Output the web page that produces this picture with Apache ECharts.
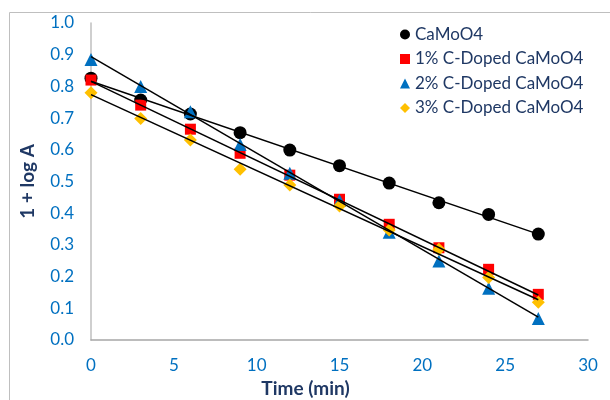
<!DOCTYPE html>
<html>
<head>
<meta charset="utf-8">
<script src="https://cdn.jsdelivr.net/npm/echarts@6/dist/echarts.min.js"></script>
<style>html,body{margin:0;padding:0;background:#fff;}#c{width:610px;height:400px;}</style>
</head>
<body>
<div id="c"></div>
<script>
const times = [0, 3, 6, 9, 12, 15, 18, 21, 24, 27];
const caMoO4 = [0.826, 0.757, 0.713, 0.654, 0.599, 0.550, 0.495, 0.433, 0.396, 0.334];
const doped1 = [0.820, 0.741, 0.665, 0.589, 0.520, 0.444, 0.365, 0.291, 0.223, 0.144];
const doped2 = [0.885, 0.800, 0.720, 0.617, 0.526, 0.440, 0.340, 0.249, 0.163, 0.068];
const doped3 = [0.780, 0.699, 0.631, 0.539, 0.489, 0.423, 0.347, 0.286, 0.197, 0.119];
const trendTimes = [0, 27];
const trendCa = [0.816, 0.334];
const trend1 = [0.816, 0.142];
const trend2 = [0.894, 0.072];
const trend3 = [0.774, 0.127];
const seriesNames = ['CaMoO4', '1% C-Doped CaMoO4', '2% C-Doped CaMoO4', '3% C-Doped CaMoO4'];
const xTicks = [0, 5, 10, 15, 20, 25, 30];

const FONT = 'Lato';
const NAVY = '#1F3864';
const pair = (xs, ys) => xs.map((x, i) => [x, ys[i]]);

const chart = echarts.init(document.getElementById('c'), null, {renderer: 'canvas'});
const scatter = (name, data, symbol, size, color) => ({
  name, type: 'scatter', data: pair(times, data), symbol, symbolSize: size,
  itemStyle: {color, opacity: 1}, z: 2
});
const trend = (data) => ({
  type: 'line', data: pair(trendTimes, data), symbol: 'none', z: 3,
  lineStyle: {color: '#000', width: 1.5}, silent: true
});

chart.setOption({
  animation: false,
  graphic: [{
    type: 'rect', shape: {x: 9.5, y: 12.5, width: 700, height: 500},
    style: {fill: 'none', stroke: '#BFBFBF', lineWidth: 1}, silent: true
  }],
  grid: {left: 91, right: 22, top: 23, bottom: 60, outerBoundsMode: 'none', containLabel: false},
  legend: {
    orient: 'vertical', left: 395, top: 21, itemGap: 7.5,
    itemWidth: 10, itemHeight: 10,
    textStyle: {fontFamily: FONT, fontSize: 17, color: NAVY},
    data: [
      {name: seriesNames[0], icon: 'circle'},
      {name: seriesNames[1], icon: 'rect'},
      {name: seriesNames[2], icon: 'triangle'},
      {name: seriesNames[3], icon: 'diamond'}
    ]
  },
  xAxis: {
    type: 'value', min: 0, max: 30, interval: 5,
    name: 'Time (min)', nameLocation: 'middle', nameGap: 35,
    nameTextStyle: {fontFamily: FONT, fontSize: 19, fontWeight: 'bold', color: NAVY, padding: [0, 68, 0, 0]},
    axisLine: {show: true, lineStyle: {color: '#A6A6A6', width: 1.5}},
    axisTick: {show: false},
    splitLine: {show: false},
    axisLabel: {fontFamily: FONT, fontSize: 17, color: '#0070C0', margin: 17,
      formatter: v => xTicks.includes(v) ? String(v) : ''}
  },
  yAxis: {
    type: 'value', min: 0, max: 1, interval: 0.1,
    name: '1 + log A', nameLocation: 'middle', nameGap: 54, nameRotate: 90,
    nameTextStyle: {fontFamily: FONT, fontSize: 19, fontWeight: 'bold', color: NAVY},
    axisLine: {show: true, lineStyle: {color: '#BFBFBF', width: 1.5}},
    axisTick: {show: false},
    splitLine: {show: false},
    axisLabel: {fontFamily: FONT, fontSize: 17, color: '#0070C0', margin: 17,
      formatter: v => v.toFixed(1)}
  },
  series: [
    scatter(seriesNames[0], caMoO4, 'circle', 13, '#000000'),
    scatter(seriesNames[1], doped1, 'rect', 11, '#FF0000'),
    scatter(seriesNames[2], doped2, 'triangle', 13, '#0070C0'),
    scatter(seriesNames[3], doped3, 'diamond', 13, '#FFC000'),
    trend(trendCa), trend(trend1), trend(trend2), trend(trend3)
  ]
});
</script>
</body>
</html>
